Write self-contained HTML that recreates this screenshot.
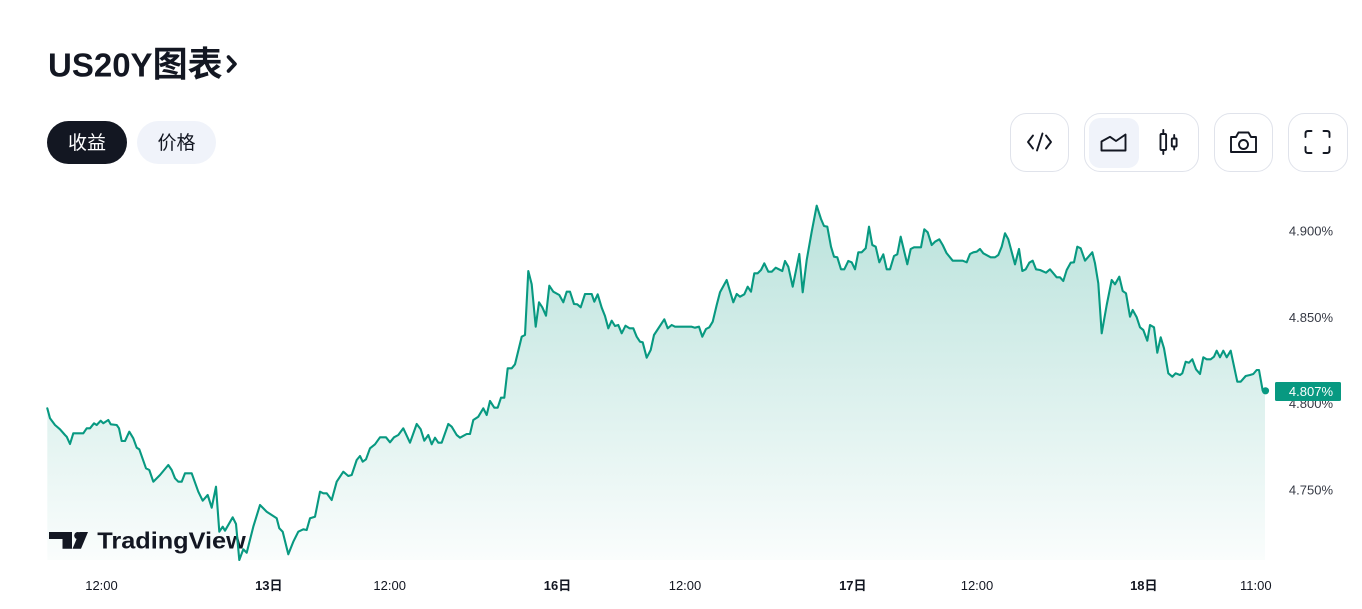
<!DOCTYPE html>
<html><head><meta charset="utf-8"><style>
html,body{margin:0;padding:0;background:#fff;width:1362px;height:609px;overflow:hidden}
svg{display:block}
text{font-family:"Liberation Sans","Noto Sans CJK SC",sans-serif}
</style></head><body>
<svg width="1362" height="609" viewBox="0 0 1362 609" xmlns="http://www.w3.org/2000/svg">
<defs>
<linearGradient id="g" x1="0" y1="205" x2="0" y2="560" gradientUnits="userSpaceOnUse">
<stop offset="0" stop-color="#089981" stop-opacity="0.28"/>
<stop offset="1" stop-color="#089981" stop-opacity="0.02"/>
</linearGradient>
</defs>

<!-- Title -->
<text x="48" y="76.5" font-size="33" font-weight="700" fill="#131722">US20Y<tspan font-size="35" font-family="Noto Sans CJK SC, sans-serif">图表</tspan></text>
<polyline points="228.5,57 235,64 228.5,71" fill="none" stroke="#131722" stroke-width="3.6" stroke-linecap="round" stroke-linejoin="round"/>

<!-- Pills -->
<rect x="47" y="121" width="80" height="43" rx="21.5" fill="#131722"/>
<text x="87" y="149" font-size="19" fill="#fff" text-anchor="middle">收益</text>
<rect x="137" y="121" width="79" height="43" rx="21.5" fill="#f0f3fa"/>
<text x="176.5" y="149" font-size="19" fill="#131722" text-anchor="middle">价格</text>

<!-- Right buttons -->
<g fill="#fff" stroke="#e0e3eb" stroke-width="1">
<rect x="1010.5" y="113.5" width="58" height="58" rx="16"/>
<rect x="1084.5" y="113.5" width="114" height="58" rx="16"/>
<rect x="1214.5" y="113.5" width="58" height="58" rx="16"/>
<rect x="1288.5" y="113.5" width="59" height="58" rx="16"/>
</g>
<rect x="1089" y="118" width="50" height="50" rx="11" fill="#f0f3fa"/>
<g fill="none" stroke="#131722" stroke-width="1.9" stroke-linecap="round" stroke-linejoin="round">
<polyline points="1033,135.5 1028,142 1033,148.5"/>
<line x1="1042.5" y1="133.5" x2="1037" y2="150.5"/>
<polyline points="1046,135.5 1051,142 1046,148.5"/>
<path d="M1101.5,150.5 V141.5 L1110,136.8 L1116,141 L1125.5,134.5 V150.5 Z"/>
<line x1="1163.3" y1="130" x2="1163.3" y2="154"/>
<rect x="1160.5" y="134" width="5.6" height="16" rx="1" fill="#fff"/>
<line x1="1174.2" y1="135" x2="1174.2" y2="149.5"/>
<rect x="1171.8" y="138.5" width="4.8" height="8" rx="1" fill="#fff"/>
<path d="M1231,137 H1236 L1238.5,132.5 H1248.5 L1251,137 H1256 V152 H1231 Z"/>
<circle cx="1243.5" cy="144.5" r="4.5"/>
<path d="M1305.5,137 V133.5 Q1305.5,131 1308,131 H1311.5"/>
<path d="M1323.5,131 H1327 Q1329.5,131 1329.5,133.5 V137"/>
<path d="M1305.5,147 V150.5 Q1305.5,153 1308,153 H1311.5"/>
<path d="M1323.5,153 H1327 Q1329.5,153 1329.5,150.5 V147"/>
</g>

<!-- Chart area fill -->
<polygon fill="url(#g)" points="47.3,408.3 50,418.3 55,425 60,429.3 65,435 66.7,436.7 70,444 73.3,433.3 83.3,433.3 86.7,428.3 90,428.3 94,423.3 96.7,425 100.7,420.7 103.3,423.3 108.3,420 110.7,424.3 116.7,425 119,428.3 121.7,441 125,441 129.3,431.7 133.3,438.3 136.7,447.7 139.3,449.3 146,468.3 149.3,470 153.3,481.7 160,475 168.3,465 171.7,470 175,478.3 178.3,481.7 181.7,481.7 185,473.3 191.7,473.3 198.3,491.7 202.7,500.7 207.7,495 211.7,507.7 216,486.7 219.3,531.7 222.7,526.7 225,530.7 232.7,517.3 236,524 239.3,560 243.3,549.3 246.7,552.7 253.3,526.7 260,505 266.7,511.7 271.7,515 276.7,518.3 279.3,528.3 282.7,531.7 288.3,554.3 293.3,541.7 298.3,531.7 303.3,529.3 306.7,530 310,518.3 315,516.7 320,491.7 323.3,493.3 326.7,493.3 331.7,500 336.7,481.7 343.3,471.7 348.3,476 351.7,475 356.7,460 360,456 362.7,461.7 366,459.3 370,448.3 375,444.3 380,437.3 386,437.3 390,442.3 394,437.3 398.3,435 403.3,428.3 410,442.7 416.7,424 420.7,429.3 424.3,440.7 428.3,435 431.7,444.3 435,437.7 438.3,442.7 441.7,442.7 448.3,424 451.7,426.7 456.7,435 460,437.7 466.7,434 470,434 473.3,420 478.3,416.7 483.3,408.3 486.7,415 490,401 494.3,407.7 497.7,407.7 501,397.7 504.3,397.7 507.7,368.3 511.7,368.3 515,364.3 521.7,336.7 525,335 528.3,271 531.7,284.3 535.7,326.7 539,302.3 542.3,307.3 546,315.7 549.3,285.7 553.3,291.7 559.3,295 563.3,302.3 566.7,291.7 570,291.7 574,304 577.3,304.3 580.7,307.3 585,294 591.7,294 594.3,301.7 597.7,294.3 601.7,307.7 605,316 608.3,328.3 611.7,320.7 615,326 618.3,325 621.7,333.3 625.5,325.7 629.5,328.3 633.3,328.3 636.7,336.7 640,341.7 642.7,342.3 646.7,357.7 650.7,350 654,335 657.3,330 664.3,319.3 667.7,328.3 671.7,325 675,326.7 691.7,326.7 695,327.7 699,326.7 702.3,336.7 706,329 709.3,327.3 712.7,321.7 716.7,305 720,292.3 726.7,280 733.3,302.3 736.7,294 740,296.7 744.3,294.3 747.7,286.7 751,291.7 754.3,273.3 757.7,273.3 761,270 764.3,263.3 768.3,271.7 771.7,271.7 775.7,267.7 782.3,271 785,261 788.3,266.7 792.7,286.7 799.3,254 802.7,292.3 806.7,260 811.7,231.7 816.7,205.7 821,219 824,226 827.3,226.7 831,246.7 834,256.7 837.3,257.3 841,269.3 844.3,269.3 848.3,261 851.7,262.3 855,269.3 858.3,252.3 861.7,252.3 865.7,248.3 869,226.7 872.3,245 875.7,246.7 879.3,262.3 883.3,254.3 886.7,269.3 890,269.3 894,256 897.3,254.3 900.7,236.7 907.3,264.3 910.7,249 914,247.3 921,247.3 924.3,229.3 927.7,232.3 931.7,245 935,241.7 939.3,239.3 942.7,245 946.5,253 952.7,260.7 962.7,260.7 966.7,262.3 970,254 973.3,252.3 976.7,251.7 980,249 983.3,253.3 990.7,257.3 995,257.3 998.3,255 1001.7,246.7 1005,233.3 1008.3,239.3 1015,264.3 1019,249 1022.3,271 1025.7,269.3 1029.3,262.7 1032.7,260.7 1036,269.3 1040,270 1046,272.7 1050,269.3 1056.7,277.3 1060,277.3 1063.3,281 1066.7,270 1070.7,262.7 1074,262.3 1077.3,246.7 1080.7,248.3 1085,260.7 1092.3,252.3 1095,263.3 1098.3,283.3 1101.7,333.3 1106.7,305 1111.7,280 1115,284.3 1119.3,276.7 1122.7,291 1126,293.3 1130,316.7 1132.7,310 1136.7,317.3 1140,327.3 1143.3,330 1147.3,340.7 1150,325 1154,327.3 1157.3,352.7 1160.7,337.3 1164,348.3 1168.3,373.3 1172.3,376.7 1175.7,373.3 1180,375 1182.3,373.3 1185.7,361.7 1189,362.7 1192.3,359.3 1196,369.3 1200,374 1203.3,357.3 1206.7,359.3 1210.7,359.3 1214,356.7 1216.7,350.7 1220,357.3 1223.3,350.7 1226.7,357.3 1230.7,350.7 1237.3,381.7 1240.7,381.7 1245.7,376 1250,375 1253.3,374 1256.7,370 1259,370 1262.7,390.7 1265,390.7 1265,560 47.3,560"/>

<!-- TradingView logo -->
<g fill="#131722">
<path d="M49,532 H72 V548.7 H62.5 V539 H49 Z"/>
<circle cx="77.8" cy="535.6" r="3.6"/>
<path d="M79.5,532 H88 L81,548.7 H72.5 Z"/>
</g>
<text x="97.3" y="548.7" font-size="23" font-weight="700" fill="#131722" textLength="148.5" lengthAdjust="spacingAndGlyphs">TradingView</text>

<!-- Series line -->
<polyline fill="none" stroke="#089981" stroke-width="2.1" stroke-linejoin="round" stroke-linecap="round" points="47.3,408.3 50,418.3 55,425 60,429.3 65,435 66.7,436.7 70,444 73.3,433.3 83.3,433.3 86.7,428.3 90,428.3 94,423.3 96.7,425 100.7,420.7 103.3,423.3 108.3,420 110.7,424.3 116.7,425 119,428.3 121.7,441 125,441 129.3,431.7 133.3,438.3 136.7,447.7 139.3,449.3 146,468.3 149.3,470 153.3,481.7 160,475 168.3,465 171.7,470 175,478.3 178.3,481.7 181.7,481.7 185,473.3 191.7,473.3 198.3,491.7 202.7,500.7 207.7,495 211.7,507.7 216,486.7 219.3,531.7 222.7,526.7 225,530.7 232.7,517.3 236,524 239.3,560 243.3,549.3 246.7,552.7 253.3,526.7 260,505 266.7,511.7 271.7,515 276.7,518.3 279.3,528.3 282.7,531.7 288.3,554.3 293.3,541.7 298.3,531.7 303.3,529.3 306.7,530 310,518.3 315,516.7 320,491.7 323.3,493.3 326.7,493.3 331.7,500 336.7,481.7 343.3,471.7 348.3,476 351.7,475 356.7,460 360,456 362.7,461.7 366,459.3 370,448.3 375,444.3 380,437.3 386,437.3 390,442.3 394,437.3 398.3,435 403.3,428.3 410,442.7 416.7,424 420.7,429.3 424.3,440.7 428.3,435 431.7,444.3 435,437.7 438.3,442.7 441.7,442.7 448.3,424 451.7,426.7 456.7,435 460,437.7 466.7,434 470,434 473.3,420 478.3,416.7 483.3,408.3 486.7,415 490,401 494.3,407.7 497.7,407.7 501,397.7 504.3,397.7 507.7,368.3 511.7,368.3 515,364.3 521.7,336.7 525,335 528.3,271 531.7,284.3 535.7,326.7 539,302.3 542.3,307.3 546,315.7 549.3,285.7 553.3,291.7 559.3,295 563.3,302.3 566.7,291.7 570,291.7 574,304 577.3,304.3 580.7,307.3 585,294 591.7,294 594.3,301.7 597.7,294.3 601.7,307.7 605,316 608.3,328.3 611.7,320.7 615,326 618.3,325 621.7,333.3 625.5,325.7 629.5,328.3 633.3,328.3 636.7,336.7 640,341.7 642.7,342.3 646.7,357.7 650.7,350 654,335 657.3,330 664.3,319.3 667.7,328.3 671.7,325 675,326.7 691.7,326.7 695,327.7 699,326.7 702.3,336.7 706,329 709.3,327.3 712.7,321.7 716.7,305 720,292.3 726.7,280 733.3,302.3 736.7,294 740,296.7 744.3,294.3 747.7,286.7 751,291.7 754.3,273.3 757.7,273.3 761,270 764.3,263.3 768.3,271.7 771.7,271.7 775.7,267.7 782.3,271 785,261 788.3,266.7 792.7,286.7 799.3,254 802.7,292.3 806.7,260 811.7,231.7 816.7,205.7 821,219 824,226 827.3,226.7 831,246.7 834,256.7 837.3,257.3 841,269.3 844.3,269.3 848.3,261 851.7,262.3 855,269.3 858.3,252.3 861.7,252.3 865.7,248.3 869,226.7 872.3,245 875.7,246.7 879.3,262.3 883.3,254.3 886.7,269.3 890,269.3 894,256 897.3,254.3 900.7,236.7 907.3,264.3 910.7,249 914,247.3 921,247.3 924.3,229.3 927.7,232.3 931.7,245 935,241.7 939.3,239.3 942.7,245 946.5,253 952.7,260.7 962.7,260.7 966.7,262.3 970,254 973.3,252.3 976.7,251.7 980,249 983.3,253.3 990.7,257.3 995,257.3 998.3,255 1001.7,246.7 1005,233.3 1008.3,239.3 1015,264.3 1019,249 1022.3,271 1025.7,269.3 1029.3,262.7 1032.7,260.7 1036,269.3 1040,270 1046,272.7 1050,269.3 1056.7,277.3 1060,277.3 1063.3,281 1066.7,270 1070.7,262.7 1074,262.3 1077.3,246.7 1080.7,248.3 1085,260.7 1092.3,252.3 1095,263.3 1098.3,283.3 1101.7,333.3 1106.7,305 1111.7,280 1115,284.3 1119.3,276.7 1122.7,291 1126,293.3 1130,316.7 1132.7,310 1136.7,317.3 1140,327.3 1143.3,330 1147.3,340.7 1150,325 1154,327.3 1157.3,352.7 1160.7,337.3 1164,348.3 1168.3,373.3 1172.3,376.7 1175.7,373.3 1180,375 1182.3,373.3 1185.7,361.7 1189,362.7 1192.3,359.3 1196,369.3 1200,374 1203.3,357.3 1206.7,359.3 1210.7,359.3 1214,356.7 1216.7,350.7 1220,357.3 1223.3,350.7 1226.7,357.3 1230.7,350.7 1237.3,381.7 1240.7,381.7 1245.7,376 1250,375 1253.3,374 1256.7,370 1259,370 1262.7,390.7 1265,390.7"/>
<circle cx="1265.5" cy="390.8" r="3.6" fill="#089981"/>

<!-- Y axis labels -->
<g font-size="13" fill="#363a45" text-anchor="end">
<text x="1333" y="235.3">4.900%</text>
<text x="1333" y="321.8">4.850%</text>
<text x="1333" y="408.2">4.800%</text>
<text x="1333" y="494.6">4.750%</text>
</g>
<rect x="1275" y="382" width="66" height="19" rx="1.5" fill="#089981"/>
<text x="1333" y="396.2" font-size="13" fill="#fff" text-anchor="end">4.807%</text>

<!-- X axis labels -->
<g font-size="13" fill="#131722" text-anchor="middle">
<text x="101.5" y="590">12:00</text>
<text x="268.8" y="590" font-weight="700">13日</text>
<text x="389.7" y="590">12:00</text>
<text x="557.5" y="590" font-weight="700">16日</text>
<text x="685" y="590">12:00</text>
<text x="852.8" y="590" font-weight="700">17日</text>
<text x="977" y="590">12:00</text>
<text x="1143.8" y="590" font-weight="700">18日</text>
<text x="1255.8" y="590">11:00</text>
</g>
</svg>
</body></html>
